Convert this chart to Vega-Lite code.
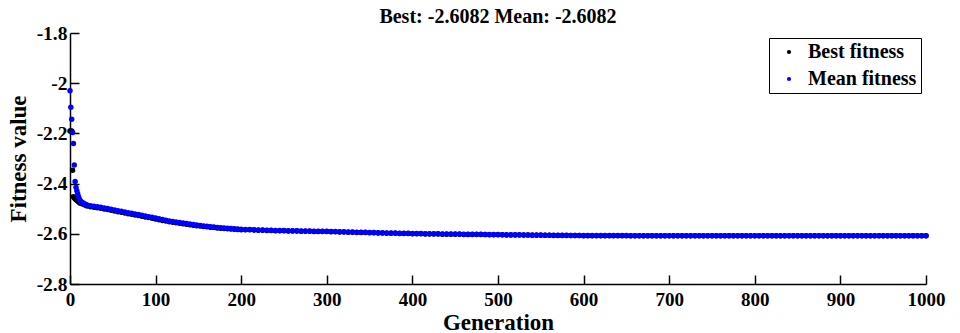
{
  "$schema": "https://vega.github.io/schema/vega-lite/v6.json",
  "autosize": {"type": "none"},
  "padding": {"left": 70, "top": 33, "right": 34, "bottom": 49},
  "width": 856,
  "height": 251,
  "background": "white",
  "config": {
    "font": "Liberation Serif",
    "view": {"stroke": null},
    "axis": {"grid": false, "domainColor": "black", "domainWidth": 1.5, "tickColor": "black", "tickWidth": 1.5, "labelColor": "black", "titleColor": "black", "labelFont": "Liberation Serif", "titleFont": "Liberation Serif", "labelFontWeight": "bold", "titleFontWeight": "bold"}
  },
  "title": {"text": "Best: -2.6082 Mean: -2.6082", "font": "Liberation Serif", "fontSize": 20, "fontWeight": "bold", "color": "black", "anchor": "middle", "offset": -4},
  "data": {"values": [
    {"g":0,"m":-2.030,"b":-2.190},
    {"g":1,"m":-2.096,"b":-2.190},
    {"g":2,"m":-2.144,"b":-2.190},
    {"g":3,"m":-2.196,"b":-2.347},
    {"g":4,"m":-2.240,"b":-2.452},
    {"g":5,"m":-2.326,"b":-2.456},
    {"g":6,"m":-2.392,"b":-2.460},
    {"g":7,"m":-2.415,"b":-2.463},
    {"g":8,"m":-2.428,"b":-2.466},
    {"g":9,"m":-2.440,"b":-2.469},
    {"g":10,"m":-2.452,"b":-2.472},
    {"g":11,"m":-2.462,"b":-2.475},
    {"g":12,"m":-2.468,"b":-2.478},
    {"g":14,"m":-2.474,"b":-2.480},
    {"g":16,"m":-2.478,"b":-2.482},
    {"g":18,"m":-2.482,"b":-2.486},
    {"g":20,"m":-2.485,"b":-2.489},
    {"g":24,"m":-2.488,"b":-2.492},
    {"g":28,"m":-2.490,"b":-2.494},
    {"g":32,"m":-2.492,"b":-2.496},
    {"g":36,"m":-2.494,"b":-2.498},
    {"g":40,"m":-2.497,"b":-2.501},
    {"g":44,"m":-2.499,"b":-2.503},
    {"g":48,"m":-2.502,"b":-2.506},
    {"g":52,"m":-2.505,"b":-2.509},
    {"g":56,"m":-2.508,"b":-2.512},
    {"g":60,"m":-2.510,"b":-2.514},
    {"g":64,"m":-2.513,"b":-2.517},
    {"g":68,"m":-2.516,"b":-2.520},
    {"g":72,"m":-2.518,"b":-2.522},
    {"g":76,"m":-2.521,"b":-2.525},
    {"g":80,"m":-2.523,"b":-2.527},
    {"g":84,"m":-2.526,"b":-2.530},
    {"g":88,"m":-2.529,"b":-2.533},
    {"g":92,"m":-2.532,"b":-2.535},
    {"g":96,"m":-2.534,"b":-2.538},
    {"g":100,"m":-2.537,"b":-2.541},
    {"g":104,"m":-2.540,"b":-2.544},
    {"g":108,"m":-2.543,"b":-2.547},
    {"g":112,"m":-2.546,"b":-2.549},
    {"g":116,"m":-2.549,"b":-2.552},
    {"g":120,"m":-2.551,"b":-2.554},
    {"g":124,"m":-2.553,"b":-2.556},
    {"g":128,"m":-2.555,"b":-2.558},
    {"g":132,"m":-2.557,"b":-2.560},
    {"g":136,"m":-2.559,"b":-2.562},
    {"g":140,"m":-2.561,"b":-2.564},
    {"g":144,"m":-2.563,"b":-2.566},
    {"g":148,"m":-2.565,"b":-2.568},
    {"g":152,"m":-2.567,"b":-2.569},
    {"g":156,"m":-2.569,"b":-2.571},
    {"g":160,"m":-2.570,"b":-2.572},
    {"g":164,"m":-2.572,"b":-2.574},
    {"g":168,"m":-2.573,"b":-2.575},
    {"g":172,"m":-2.575,"b":-2.577},
    {"g":176,"m":-2.576,"b":-2.578},
    {"g":180,"m":-2.577,"b":-2.579},
    {"g":184,"m":-2.578,"b":-2.580},
    {"g":188,"m":-2.579,"b":-2.581},
    {"g":192,"m":-2.580,"b":-2.582},
    {"g":196,"m":-2.581,"b":-2.583},
    {"g":200,"m":-2.582,"b":-2.584},
    {"g":205,"m":-2.583,"b":-2.584},
    {"g":210,"m":-2.583,"b":-2.584},
    {"g":215,"m":-2.584,"b":-2.585},
    {"g":220,"m":-2.585,"b":-2.586},
    {"g":225,"m":-2.585,"b":-2.586},
    {"g":230,"m":-2.586,"b":-2.587},
    {"g":235,"m":-2.586,"b":-2.587},
    {"g":240,"m":-2.587,"b":-2.588},
    {"g":245,"m":-2.587,"b":-2.588},
    {"g":250,"m":-2.587,"b":-2.588},
    {"g":255,"m":-2.588,"b":-2.589},
    {"g":260,"m":-2.588,"b":-2.589},
    {"g":265,"m":-2.588,"b":-2.589},
    {"g":270,"m":-2.589,"b":-2.590},
    {"g":275,"m":-2.589,"b":-2.590},
    {"g":280,"m":-2.589,"b":-2.590},
    {"g":285,"m":-2.590,"b":-2.591},
    {"g":290,"m":-2.590,"b":-2.591},
    {"g":295,"m":-2.590,"b":-2.591},
    {"g":300,"m":-2.590,"b":-2.591},
    {"g":305,"m":-2.591,"b":-2.592},
    {"g":310,"m":-2.591,"b":-2.592},
    {"g":315,"m":-2.592,"b":-2.593},
    {"g":320,"m":-2.592,"b":-2.593},
    {"g":325,"m":-2.593,"b":-2.594},
    {"g":330,"m":-2.593,"b":-2.594},
    {"g":335,"m":-2.594,"b":-2.595},
    {"g":340,"m":-2.594,"b":-2.595},
    {"g":345,"m":-2.594,"b":-2.595},
    {"g":350,"m":-2.595,"b":-2.596},
    {"g":355,"m":-2.595,"b":-2.596},
    {"g":360,"m":-2.596,"b":-2.597},
    {"g":365,"m":-2.596,"b":-2.597},
    {"g":370,"m":-2.597,"b":-2.598},
    {"g":375,"m":-2.597,"b":-2.598},
    {"g":380,"m":-2.597,"b":-2.598},
    {"g":385,"m":-2.598,"b":-2.599},
    {"g":390,"m":-2.598,"b":-2.599},
    {"g":395,"m":-2.598,"b":-2.599},
    {"g":400,"m":-2.599,"b":-2.600},
    {"g":405,"m":-2.599,"b":-2.600},
    {"g":410,"m":-2.599,"b":-2.600},
    {"g":415,"m":-2.600,"b":-2.601},
    {"g":420,"m":-2.600,"b":-2.601},
    {"g":425,"m":-2.600,"b":-2.601},
    {"g":430,"m":-2.600,"b":-2.601},
    {"g":435,"m":-2.601,"b":-2.602},
    {"g":440,"m":-2.601,"b":-2.602},
    {"g":445,"m":-2.601,"b":-2.602},
    {"g":450,"m":-2.601,"b":-2.602},
    {"g":455,"m":-2.601,"b":-2.602},
    {"g":460,"m":-2.602,"b":-2.603},
    {"g":465,"m":-2.602,"b":-2.603},
    {"g":470,"m":-2.602,"b":-2.603},
    {"g":475,"m":-2.602,"b":-2.603},
    {"g":480,"m":-2.602,"b":-2.603},
    {"g":485,"m":-2.603,"b":-2.603},
    {"g":490,"m":-2.603,"b":-2.604},
    {"g":495,"m":-2.603,"b":-2.604},
    {"g":500,"m":-2.603,"b":-2.604},
    {"g":505,"m":-2.604,"b":-2.604},
    {"g":510,"m":-2.604,"b":-2.605},
    {"g":515,"m":-2.604,"b":-2.605},
    {"g":520,"m":-2.604,"b":-2.605},
    {"g":525,"m":-2.604,"b":-2.605},
    {"g":530,"m":-2.605,"b":-2.605},
    {"g":535,"m":-2.605,"b":-2.605},
    {"g":540,"m":-2.605,"b":-2.606},
    {"g":545,"m":-2.605,"b":-2.606},
    {"g":550,"m":-2.605,"b":-2.606},
    {"g":555,"m":-2.606,"b":-2.606},
    {"g":560,"m":-2.606,"b":-2.606},
    {"g":565,"m":-2.606,"b":-2.607},
    {"g":570,"m":-2.606,"b":-2.607},
    {"g":575,"m":-2.606,"b":-2.607},
    {"g":580,"m":-2.606,"b":-2.607},
    {"g":585,"m":-2.607,"b":-2.607},
    {"g":590,"m":-2.607,"b":-2.607},
    {"g":595,"m":-2.607,"b":-2.607},
    {"g":600,"m":-2.607,"b":-2.608},
    {"g":605,"m":-2.607,"b":-2.608},
    {"g":610,"m":-2.607,"b":-2.608},
    {"g":615,"m":-2.607,"b":-2.608},
    {"g":620,"m":-2.607,"b":-2.608},
    {"g":625,"m":-2.607,"b":-2.608},
    {"g":630,"m":-2.607,"b":-2.608},
    {"g":635,"m":-2.607,"b":-2.608},
    {"g":640,"m":-2.607,"b":-2.608},
    {"g":645,"m":-2.607,"b":-2.608},
    {"g":650,"m":-2.607,"b":-2.608},
    {"g":655,"m":-2.608,"b":-2.608},
    {"g":660,"m":-2.608,"b":-2.608},
    {"g":665,"m":-2.608,"b":-2.608},
    {"g":670,"m":-2.608,"b":-2.608},
    {"g":675,"m":-2.608,"b":-2.608},
    {"g":680,"m":-2.608,"b":-2.608},
    {"g":685,"m":-2.608,"b":-2.608},
    {"g":690,"m":-2.608,"b":-2.608},
    {"g":695,"m":-2.608,"b":-2.608},
    {"g":700,"m":-2.6081,"b":-2.6082},
    {"g":705,"m":-2.6081,"b":-2.6082},
    {"g":710,"m":-2.6081,"b":-2.6082},
    {"g":715,"m":-2.6081,"b":-2.6082},
    {"g":720,"m":-2.6081,"b":-2.6082},
    {"g":725,"m":-2.6081,"b":-2.6082},
    {"g":730,"m":-2.6081,"b":-2.6082},
    {"g":735,"m":-2.6081,"b":-2.6082},
    {"g":740,"m":-2.6081,"b":-2.6082},
    {"g":745,"m":-2.6081,"b":-2.6082},
    {"g":750,"m":-2.6081,"b":-2.6082},
    {"g":755,"m":-2.6081,"b":-2.6082},
    {"g":760,"m":-2.6081,"b":-2.6082},
    {"g":765,"m":-2.6081,"b":-2.6082},
    {"g":770,"m":-2.6081,"b":-2.6082},
    {"g":775,"m":-2.6081,"b":-2.6082},
    {"g":780,"m":-2.6081,"b":-2.6082},
    {"g":785,"m":-2.6081,"b":-2.6082},
    {"g":790,"m":-2.6081,"b":-2.6082},
    {"g":795,"m":-2.6081,"b":-2.6082},
    {"g":800,"m":-2.6081,"b":-2.6082},
    {"g":805,"m":-2.6081,"b":-2.6082},
    {"g":810,"m":-2.6081,"b":-2.6082},
    {"g":815,"m":-2.6081,"b":-2.6082},
    {"g":820,"m":-2.6081,"b":-2.6082},
    {"g":825,"m":-2.6081,"b":-2.6082},
    {"g":830,"m":-2.6081,"b":-2.6082},
    {"g":835,"m":-2.6081,"b":-2.6082},
    {"g":840,"m":-2.6081,"b":-2.6082},
    {"g":845,"m":-2.6081,"b":-2.6082},
    {"g":850,"m":-2.6081,"b":-2.6082},
    {"g":855,"m":-2.6081,"b":-2.6082},
    {"g":860,"m":-2.6081,"b":-2.6082},
    {"g":865,"m":-2.6081,"b":-2.6082},
    {"g":870,"m":-2.6081,"b":-2.6082},
    {"g":875,"m":-2.6081,"b":-2.6082},
    {"g":880,"m":-2.6081,"b":-2.6082},
    {"g":885,"m":-2.6081,"b":-2.6082},
    {"g":890,"m":-2.6081,"b":-2.6082},
    {"g":895,"m":-2.6081,"b":-2.6082},
    {"g":900,"m":-2.6081,"b":-2.6082},
    {"g":905,"m":-2.6081,"b":-2.6082},
    {"g":910,"m":-2.6081,"b":-2.6082},
    {"g":915,"m":-2.6081,"b":-2.6082},
    {"g":920,"m":-2.6081,"b":-2.6082},
    {"g":925,"m":-2.6081,"b":-2.6082},
    {"g":930,"m":-2.6081,"b":-2.6082},
    {"g":935,"m":-2.6081,"b":-2.6082},
    {"g":940,"m":-2.6081,"b":-2.6082},
    {"g":945,"m":-2.6081,"b":-2.6082},
    {"g":950,"m":-2.6081,"b":-2.6082},
    {"g":955,"m":-2.6081,"b":-2.6082},
    {"g":960,"m":-2.6081,"b":-2.6082},
    {"g":965,"m":-2.6081,"b":-2.6082},
    {"g":970,"m":-2.6081,"b":-2.6082},
    {"g":975,"m":-2.6081,"b":-2.6082},
    {"g":980,"m":-2.6081,"b":-2.6082},
    {"g":985,"m":-2.6081,"b":-2.6082},
    {"g":990,"m":-2.6081,"b":-2.6082},
    {"g":995,"m":-2.6082,"b":-2.6082},
    {"g":1000,"m":-2.6082,"b":-2.6082}
  ]},
  "transform": [{"fold": ["b", "m"], "as": ["s", "v"]}],
  "mark": {"type": "point", "filled": true, "shape": "circle", "size": 30, "opacity": 1},
  "encoding": {
    "x": {"field": "g", "type": "quantitative", "scale": {"domain": [0, 1000], "nice": false, "zero": false},
      "axis": {"title": "Generation", "values": [0,100,200,300,400,500,600,700,800,900,1000], "labelExpr": "'' + datum.value", "tickSize": -9, "labelPadding": 15, "labelFontSize": 19, "titleFontSize": 23, "titlePadding": 2, "labelFlush": false}},
    "y": {"field": "v", "type": "quantitative", "scale": {"domain": [-2.8, -1.8], "nice": false, "zero": false},
      "axis": {"title": "Fitness value", "values": [-2.8,-2.6,-2.4,-2.2,-2,-1.8], "labelExpr": "'' + datum.value", "tickSize": -9, "labelPadding": 12, "labelFontSize": 19.5, "titleFontSize": 23, "titlePadding": 6, "labelFlush": false}},
    "color": {"field": "s", "type": "nominal", "scale": {"domain": ["b", "m"], "range": ["#000000", "#0000ff"]},
      "legend": {"title": null, "orient": "none", "legendX": 699, "legendY": 5, "labelExpr": "datum.label == 'b' ? 'Best fitness' : 'Mean fitness'", "labelFont": "Liberation Serif", "labelFontWeight": "bold", "labelFontSize": 20, "labelColor": "black", "strokeColor": "black", "fillColor": "white", "padding": 4, "symbolSize": 18, "symbolType": "circle", "symbolOffset": 6, "labelOffset": 9, "rowPadding": 7, "labelLimit": 300}},
    "order": {"field": "s", "type": "nominal"}
  }
}
